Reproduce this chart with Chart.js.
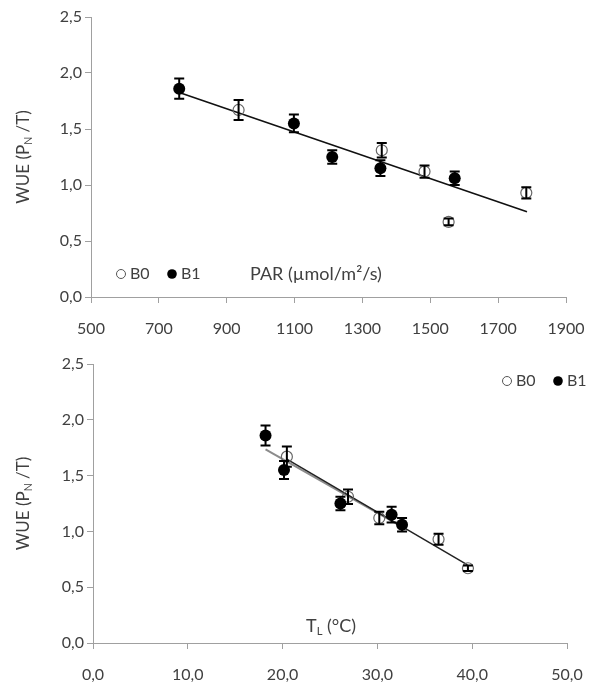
<!DOCTYPE html>
<html>
<head>
<meta charset="utf-8">
<title>WUE</title>
<script src="https://cdn.jsdelivr.net/npm/chart.js@4.4.1/dist/chart.umd.min.js"></script>
<style>
    html, body { margin: 0; padding: 0; background: #fff; }
    canvas { display: block; }
</style>
</head>
<body>
<canvas id="parChart" width="592" height="340"></canvas>
<canvas id="tlChart" width="592" height="347"></canvas>
<script>
// ---- data ----
const wueTicks = [0, 0.5, 1, 1.5, 2, 2.5];
const parTicks = [500, 700, 900, 1100, 1300, 1500, 1700, 1900];
const tlTicks = [0, 10, 20, 30, 40, 50];

// WUE vs PAR
const parB0 = [935, 1357, 1483, 1554, 1783];
const wueParB0 = [1.67, 1.31, 1.12, 0.67, 0.93];
const errParB0 = [0.09, 0.065, 0.055, 0.03, 0.05];
const parB1 = [760, 1098, 1211, 1353, 1572];
const wueParB1 = [1.86, 1.55, 1.25, 1.15, 1.06];
const errParB1 = [0.09, 0.08, 0.06, 0.07, 0.06];
const parTrendX = [760, 1785];
const parTrendY = [1.825, 0.762];

// WUE vs leaf temperature
const tlB0 = [20.45, 26.9, 30.2, 36.45, 39.55];
const wueTlB0 = [1.67, 1.31, 1.12, 0.93, 0.67];
const errTlB0 = [0.09, 0.065, 0.055, 0.05, 0.025];
const tlB1 = [18.2, 20.15, 26.1, 31.5, 32.6];
const wueTlB1 = [1.86, 1.55, 1.25, 1.15, 1.06];
const errTlB1 = [0.09, 0.08, 0.06, 0.07, 0.06];
const tlTrendB0X = [20.4, 39.5];
const tlTrendB0Y = [1.65, 0.70];
const tlTrendB1X = [18.2, 32.6];
const tlTrendB1Y = [1.735, 1.04];

const FONT = 'Lato, "Open Sans", sans-serif';
const TEXT = '#404040';
const AXIS = '#a0a0a0';

function pts(xs, ys) {
    return xs.map((x, i) => ({ x: x, y: ys[i] }));
}

function comma(v) {
    return v.toFixed(1).replace('.', ',');
}

// text with an optional subscript part: [['WUE (P'], ['N', true], [' /T)']]
function drawParts(ctx, parts, x, y, size) {
    let cx = x;
    parts.forEach(function (p) {
        ctx.font = (p[1] ? size * 0.62 : size) + 'px ' + FONT;
        ctx.fillText(p[0], cx, p[1] ? y + size * 0.3 : y);
        cx += ctx.measureText(p[0]).width;
    });
}

function partsWidth(ctx, parts, size) {
    let w = 0;
    parts.forEach(function (p) {
        ctx.font = (p[1] ? size * 0.62 : size) + 'px ' + FONT;
        w += ctx.measureText(p[0]).width;
    });
    return w;
}

/**
 * error bars, axis titles and the small legend
 */
const annotPlugin = {
    id: 'annot',
    afterDatasetsDraw(chart, args, opts) {
        const ctx = chart.ctx;
        const xs = chart.scales.x, ys = chart.scales.y;
        const area = chart.chartArea;

        // error bars
        ctx.save();
        ctx.strokeStyle = '#000';
        ctx.lineWidth = 2;
        chart.data.datasets.forEach(function (ds) {
            if (!ds.errors) return;
            ds.data.forEach(function (p, i) {
                const px = xs.getPixelForValue(p.x);
                const top = ys.getPixelForValue(p.y + ds.errors[i]);
                const bot = ys.getPixelForValue(p.y - ds.errors[i]);
                ctx.beginPath();
                ctx.moveTo(px, top); ctx.lineTo(px, bot);
                ctx.moveTo(px - 5, top); ctx.lineTo(px + 5, top);
                ctx.moveTo(px - 5, bot); ctx.lineTo(px + 5, bot);
                ctx.stroke();
            });
        });
        ctx.restore();

        ctx.save();
        ctx.fillStyle = TEXT;
        ctx.textBaseline = 'middle';
        ctx.textAlign = 'left';

        // y title, rotated
        const yParts = [['WUE (P'], ['N', true], [' /T)']];
        const yw = partsWidth(ctx, yParts, 17);
        ctx.save();
        ctx.translate(opts.yTitleX, (area.top + area.bottom) / 2);
        ctx.rotate(-Math.PI / 2);
        drawParts(ctx, yParts, -yw / 2, 0, 17);
        ctx.restore();

        // x title inside the plot
        drawParts(ctx, opts.xTitle, area.left + opts.xTitleDx, area.bottom + opts.xTitleDy, 18);

        // legend
        const lx = (opts.legendFromRight ? area.right : area.left) + opts.legendDx;
        const ly = opts.legendFromTop ? area.top + opts.legendDy : area.bottom + opts.legendDy;
        ctx.lineWidth = 1;
        ctx.strokeStyle = '#555';
        ctx.beginPath();
        ctx.arc(lx, ly, 4.5, 0, Math.PI * 2);
        ctx.stroke();
        drawParts(ctx, [['B0']], lx + 9, ly, 16);
        ctx.fillStyle = '#000';
        ctx.beginPath();
        ctx.arc(lx + 51, ly, 4.8, 0, Math.PI * 2);
        ctx.fill();
        ctx.fillStyle = TEXT;
        drawParts(ctx, [['B1']], lx + 60, ly, 16);
        ctx.restore();
    }
};

function makeChart(id, cfg) {
    const axisCommon = {
        grid: { display: true, drawOnChartArea: false, drawTicks: true, tickLength: 6, color: AXIS },
        border: { color: AXIS, width: 1 }
    };
    return new Chart(document.getElementById(id), {
        type: 'scatter',
        data: { datasets: cfg.datasets },
        options: {
            responsive: false,
            animation: false,
            layout: { padding: cfg.padding },
            plugins: {
                legend: { display: false },
                tooltip: { enabled: false },
                annot: cfg.annot
            },
            scales: {
                x: {
                    ...axisCommon,
                    min: cfg.xTicks[0],
                    max: cfg.xTicks[cfg.xTicks.length - 1],
                    afterBuildTicks: function (s) { s.ticks = cfg.xTicks.map(v => ({ value: v })); },
                    afterFit: function (s) {
                        s.height = cfg.xHeight;
                        // let the layout padding alone decide the plot edges
                        s.paddingLeft = 0;
                        s.paddingRight = 0;
                    },
                    ticks: {
                        color: TEXT, padding: 16, maxRotation: 0, autoSkip: false,
                        font: { family: FONT, size: 16 },
                        callback: cfg.xFormat
                    }
                },
                y: {
                    ...axisCommon,
                    min: 0,
                    max: 2.5,
                    afterBuildTicks: function (s) { s.ticks = wueTicks.map(v => ({ value: v })); },
                    afterFit: function (s) { s.width = cfg.yWidth; },
                    ticks: {
                        color: TEXT, padding: 3,
                        font: { family: FONT, size: 16 },
                        callback: v => comma(v)
                    }
                }
            }
        },
        plugins: [annotPlugin]
    });
}

function pointSets(xB0, yB0, eB0, xB1, yB1, eB1) {
    return [{
        label: 'B1', data: pts(xB1, yB1), errors: eB1,
        pointRadius: 6, backgroundColor: '#000', borderColor: '#000', borderWidth: 0
    }, {
        label: 'B0', data: pts(xB0, yB0), errors: eB0,
        pointRadius: 5.5, backgroundColor: 'rgba(0,0,0,0)', borderColor: '#666', borderWidth: 1.2
    }];
}

document.addEventListener('DOMContentLoaded', function () {
    // WUE vs PAR
    makeChart('parChart', {
        padding: { left: 0, top: 17, right: 26, bottom: 0 },
        yWidth: 91,
        xHeight: 43,
        xTicks: parTicks,
        xFormat: v => String(v),
        annot: {
            yTitleX: 24,
            xTitle: [['PAR (µmol/m²/s)']],
            xTitleDx: 159, xTitleDy: -23,
            legendFromRight: false, legendFromTop: false,
            legendDx: 30, legendDy: -23
        },
        datasets: pointSets(parB0, wueParB0, errParB0, parB1, wueParB1, errParB1).concat([{
            label: 'trend', data: pts(parTrendX, parTrendY), showLine: true,
            pointRadius: 0, borderColor: '#111', borderWidth: 1.6
        }])
    });

    // WUE vs leaf temperature
    makeChart('tlChart', {
        padding: { left: 0, top: 24, right: 25, bottom: 0 },
        yWidth: 93,
        xHeight: 44,
        xTicks: tlTicks,
        xFormat: v => comma(v),
        annot: {
            yTitleX: 24,
            xTitle: [['T'], ['L', true], [' (°C)']],
            xTitleDx: 213, xTitleDy: -17,
            legendFromRight: true, legendFromTop: true,
            legendDx: -60, legendDy: 17
        },
        datasets: pointSets(tlB0, wueTlB0, errTlB0, tlB1, wueTlB1, errTlB1).concat([{
            label: 'trend B0', data: pts(tlTrendB0X, tlTrendB0Y), showLine: true,
            pointRadius: 0, borderColor: '#222', borderWidth: 1.5
        }, {
            label: 'trend B1', data: pts(tlTrendB1X, tlTrendB1Y), showLine: true,
            pointRadius: 0, borderColor: '#8c8c8c', borderWidth: 2
        }])
    });
});
</script>
</body>
</html>
